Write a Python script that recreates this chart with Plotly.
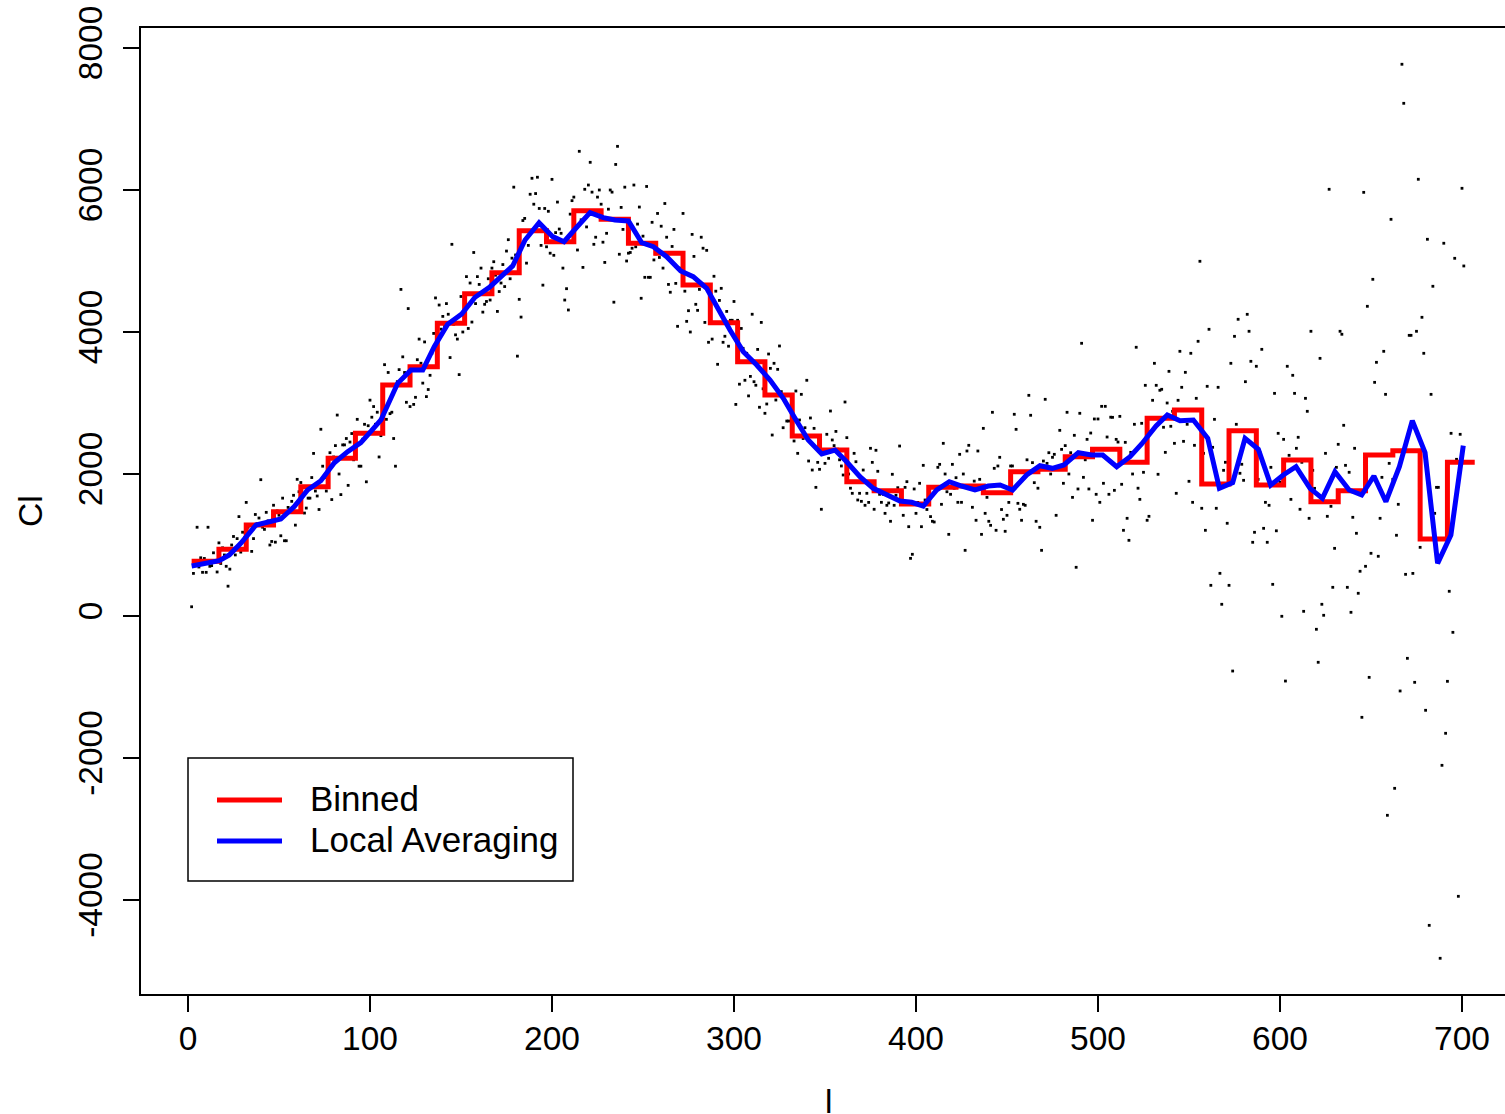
import plotly.graph_objects as go

# ---------------- data ----------------
# observed Cl, one value per multipole l = 2 .. 701
cl_obs = [
    130, 600, 780, 1250, 690, 820, 615, 810, 615, 1250, 700, 710, 890, 760, 620,
    1030, 740, 960, 860, 700, 420, 660, 1000, 1120, 860, 1090, 1400, 900, 1180, 1100,
    1600, 1250, 1180, 910, 1090, 1430, 1300, 1380, 1920, 1250, 1220, 1460, 1340, 1000, 1050,
    1560, 1040, 1480, 1420, 1130, 1660, 1060, 1060, 1530, 1500, 1615, 1700, 1280, 1925, 1750,
    1880, 1700, 1450, 1520, 1660, 1660, 1950, 2290, 1760, 1690, 1500, 2630, 2110, 1950, 1760,
    2150, 2300, 1640, 2240, 2400, 2830, 2000, 1710, 2410, 2410, 2500, 1840, 2450, 2570, 2200,
    2400, 2770, 2110, 2110, 2490, 2700, 1890, 2680, 3040, 2800, 2950, 2700, 2870, 2240, 2540,
    3100, 3540, 2770, 3430, 2850, 2870, 2500, 2110, 3300, 3470, 4600, 3650, 3430, 3010, 4330,
    2950, 3500, 2980, 3080, 3610, 3900, 3560, 3280, 3860, 3090, 3190, 3390, 3700, 3980, 4480,
    4100, 4380, 4040, 4220, 4085, 4400, 4250, 3640, 5235, 4110, 3960, 3900, 3400, 4500, 4000,
    4300, 4780, 4050, 4690, 4140, 5120, 4400, 4780, 4670, 4900, 4280, 4390, 4430, 4750, 4450,
    4900, 4990, 4800, 4290, 4570, 4690, 4950, 4640, 5140, 5300, 4750, 5040, 6040, 5085, 3660,
    4460, 4210, 5570, 5600, 4970, 5220, 5940, 6165, 5800, 5950, 6180, 5740, 5220, 4660, 5740,
    5200, 5700, 5110, 6150, 5080, 5400, 5830, 5450, 5390, 4900, 4450, 4610, 4310, 5660, 5850,
    5900, 5500, 5155, 6545, 5580, 4910, 6010, 5480, 6070, 6390, 5970, 5235, 5335, 5900, 6000,
    5800, 5265, 4980, 5390, 5730, 6000, 5970, 4420, 6360, 6615, 5095, 5755, 5445, 6040, 5000,
    5110, 5120, 5180, 6070, 5200, 5520, 5760, 4475, 5350, 4770, 6050, 4770, 4770, 5545, 5015,
    5100, 5670, 5050, 5490, 4900, 5810, 5335, 4670, 4560, 5205, 5445, 4685, 4080, 4900, 5120,
    5670, 4575, 4150, 4300, 4000, 5375, 5065, 4390, 4305, 4600, 5335, 5180, 4135, 5150, 3855,
    4300, 3900, 4785, 4575, 3545, 4445, 4615, 3855, 3940, 4290, 3800, 4165, 4165, 4430, 2980,
    4165, 3265, 4050, 3770, 3320, 3700, 3100, 3375, 4250, 3300, 3250, 3755, 2940, 4135, 3200,
    2855, 2986, 3690, 3488, 2549, 3559, 3042, 3474, 3803, 3160, 2652, 3028, 2746, 2746, 2950,
    2600, 2465, 3169, 2291, 2761, 3122, 2500, 2652, 3320, 2183, 2789, 2056, 2643, 1812, 2164,
    2066, 1503, 2300, 2150, 2559, 2221, 2887, 2479, 2400, 2600, 2350, 2200, 2113, 1986, 3014,
    2512, 2000, 1800, 1728, 2291, 2173, 1634, 1728, 1615, 2056, 1559, 1728, 1600, 2362, 2164,
    1503, 2334, 2038, 1714, 1601, 1714, 1446, 1559, 1592, 1334, 1996, 1559, 1700, 1807, 2394,
    1700, 1418, 1812, 1892, 1258, 812, 869, 1789, 1446, 1600, 1869, 1258, 2122, 1634, 1500,
    1700, 1400, 1334, 1324, 1800, 2094, 2136, 1573, 2432, 2000, 1750, 1150, 1714, 2136, 1800,
    1948, 1601, 2277, 1601, 2000, 925, 2324, 2404, 1800, 1531, 1900, 1348, 2324, 1925, 1150,
    2643, 1446, 1671, 1334, 1277, 2869, 2080, 1207, 2113, 2235, 1500, 1362, 1193, 1418, 1600,
    2113, 2113, 2841, 2629, 1587, 1503, 1348, 1573, 1559, 2200, 3108, 2827, 2160, 1878, 1334,
    1800, 1249, 925, 2183, 3052, 2150, 2300, 2000, 2235, 2277, 1418, 2100, 2615, 2347, 1869,
    2400, 2869, 2000, 2300, 1671, 2545, 686, 1789, 2855, 3841, 1953, 2200, 2488, 1789, 2577,
    1348, 2775, 1714, 2775, 1601, 2953, 1869, 2953, 2521, 1714, 2800, 2798, 1770, 2488, 2450,
    2812, 1855, 1207, 2446, 1376, 1066, 2305, 2000, 2700, 3785, 1800, 1643, 2714, 2024, 3249,
    1348, 1404, 2600, 3038, 3559, 3249, 1996, 3179, 3193, 2658, 2305, 3000, 3446, 2672, 2883,
    2432, 1728, 3038, 3728, 3221, 2460, 3432, 2700, 1897, 3700, 1601, 2404, 3066, 3869, 4996,
    1517, 2291, 1207, 3235, 4038, 432, 2376, 2770, 1517, 3221, 601, 165, 2052, 2165, 1306,
    432, 3559, -775, 3939, 2700, 4179, 2010, 2137, 1911, 3300, 4249, 4010, 3587, 1038, 1179,
    3517, 1925, 2300, 3756, 1235, 1601, 1038, 1559, 2094, 446, 3136, 1200, 2573, 1883, -4,
    2488, -916, 3517, 2263, 1643, 3390, 3136, 2362, 2517, 1503, 2165, 66, 3066, 2883, 1376,
    4010, 2052, 1798, -187, -652, 3629, 165, 10, 2291, 1404, 6010, 1545, 404, 953, 2094,
    2418, 4010, 3968, 2686, 2122, 404, 2024, 52, 1390, 2362, 1165, 320, 630, -1427, 5967,
    700, 4362, -864, 883, 4742, 3291, 3573, 841, 1376, 1953, 3728, 3122, -2807, 2150, 5587,
    1925, -2427, 1137, 1573, -1056, 7771, 7221, 587, -596, 3953, 3953, 600, -934, 4010, 6151,
    967, 4207, 3700, -1328, 5306, -4357, 3122, 4644, 1446, 1812, 1812, -4821, -2103, 5250, -1652,
    -920, 348, 2573, -230, 5038, 2207, -3948, 2559, 6024, 4930,
]
ell = list(range(2, 2 + len(cl_obs)))

# binned means: bins of width 15 starting at l = 2
bin_start = 2
bin_width = 15
binned_cl = [770, 939, 1282, 1469, 1822, 2221, 2573, 3254, 3512, 4123,
             4540, 4836, 5427, 5272, 5709, 5587, 5249, 5108, 4662, 4131,
             3582, 3113, 2535, 2338, 1892, 1765, 1577, 1812, 1831, 1737,
             2033, 2066, 2244, 2350, 2164, 2784, 2901, 1859, 2610, 1845,
             2197, 1610, 1765, 2268, 2329, 1085, 2164]
bin_edges = [bin_start + bin_width * i for i in range(len(binned_cl) + 1)]

# local averaging curve
avg_l = [2, 9.5, 17.2, 22.7, 29, 37.4, 44, 51, 58.4, 65.7,
         73, 80.4, 87.7, 95, 100.5, 106, 115.2, 122.5, 129, 135.3,
         142.7, 150.4, 157.7, 166, 172, 178.4, 185.2, 192.9, 200.4, 206.6,
         213.6, 220.9, 228.2, 234.6, 242, 249.3, 255.7, 263, 270.7, 277.6,
         285, 291.4, 297.8, 305.1, 312.5, 319.8, 327.1, 333.5, 340.8, 348.2,
         355.5, 361.9, 369.2, 376.5, 383.9, 391.2, 397.6, 404, 411.4, 418.3,
         425.1, 432.4, 439.7, 446.2, 453.1, 460.8, 468.1, 474.9, 481.3, 489.2,
         496.5, 502.6, 510.3, 517.6, 524, 531.9, 538.1, 545.1, 552.4, 560.3,
         566.7, 574, 580.8, 588.1, 594.9, 601.8, 608.8, 616.5, 623.3, 630.2,
         638, 644.9, 651.6, 658.2, 665.6, 672.7, 679.7, 686.6, 693.9, 700.7]
avg_cl = [704, 745, 779, 859, 1024, 1282, 1320, 1366, 1540, 1775,
          1906, 2159, 2315, 2441, 2600, 2761, 3277, 3465, 3465, 3793,
          4110, 4254, 4489, 4638, 4780, 4930, 5296, 5540, 5343, 5272,
          5475, 5681, 5610, 5578, 5564, 5258, 5202, 5061, 4859, 4779,
          4615, 4310, 4028, 3723, 3535, 3324, 3066, 2785, 2479, 2282,
          2338, 2173, 1962, 1798, 1704, 1620, 1601, 1549, 1775, 1892,
          1831, 1775, 1831, 1845, 1775, 1986, 2117, 2080, 2127, 2300,
          2268, 2268, 2103, 2244, 2423, 2676, 2831, 2751, 2761, 2503,
          1798, 1878, 2503, 2348, 1845, 1986, 2103, 1798, 1657, 2033,
          1775, 1704, 1972, 1610, 2103, 2751, 2300, 742, 1141, 2399]

x_ticks = [0, 100, 200, 300, 400, 500, 600, 700]
y_ticks = [-4000, -2000, 0, 2000, 4000, 6000, 8000]
y_ticktext = [str(v) for v in y_ticks]
legend_labels = ["Binned", "Local Averaging"]
series_colors = ["#FF0000", "#0000FF"]

# ---------------- figure ----------------
FONT = "Liberation Sans, Arial, Helvetica, sans-serif"
FS = 33.5
FS_LEG = 35
W, H = 1505, 1114
ML, MR, MT, MB = 141, 0, 28, 120

fig = go.Figure()
fig.add_trace(go.Scatter(
    x=ell, y=cl_obs, mode="markers",
    marker=dict(symbol="square", size=2.8, color="black", line=dict(width=0)),
    showlegend=False, hoverinfo="x+y"))
fig.add_trace(go.Scatter(
    x=bin_edges, y=binned_cl + [binned_cl[-1]], mode="lines",
    line=dict(color=series_colors[0], width=5, shape="hv"),
    name=legend_labels[0], showlegend=False))
fig.add_trace(go.Scatter(
    x=avg_l, y=avg_cl, mode="lines",
    line=dict(color=series_colors[1], width=5),
    name=legend_labels[1], showlegend=False))

fig.update_layout(
    width=W, height=H,
    margin=dict(l=ML, r=MR, t=MT, b=MB, pad=0),
    paper_bgcolor="white", plot_bgcolor="white",
    font=dict(family=FONT, size=FS, color="black"),
    showlegend=False,
)
fig.update_xaxes(
    range=[-25.82, -25.82 + (W - ML - MR) / 1.82],
    tickmode="array", tickvals=x_ticks,
    ticks="outside", ticklen=16, tickwidth=1.5, tickcolor="black",
    showline=True, linecolor="black", linewidth=1.5, mirror=True,
    showgrid=False, zeroline=False,
    tickfont=dict(family=FONT, size=FS), ticklabelstandoff=-2,
)
fig.update_yaxes(
    range=[-5323.9, 8281.7],
    tickmode="array", tickvals=y_ticks, ticktext=y_ticktext, tickangle=-90,
    ticks="outside", ticklen=16, tickwidth=1.5, tickcolor="black",
    showline=True, linecolor="black", linewidth=1.5, mirror=False,
    showgrid=False, zeroline=False,
    tickfont=dict(family=FONT, size=FS), ticklabelstandoff=8,
)

plot_w = W - ML - MR
plot_h = H - MT - MB


def px_x(px):
    return (px - ML) / plot_w


def px_y(py):
    return (H - MB - py) / plot_h


# legend box (drawn by hand to match the base-R legend)
fig.add_shape(type="rect", xref="paper", yref="paper",
              x0=px_x(188), x1=px_x(573), y0=px_y(881), y1=px_y(758),
              line=dict(color="black", width=1.5), fillcolor="white", layer="above")
for i, (lab, col) in enumerate(zip(legend_labels, series_colors)):
    yy = [800, 841][i]
    fig.add_shape(type="line", xref="paper", yref="paper",
                  x0=px_x(217), x1=px_x(282), y0=px_y(yy), y1=px_y(yy),
                  line=dict(color=col, width=5), layer="above")
    fig.add_annotation(xref="paper", yref="paper", x=px_x(311), y=px_y(yy),
                       xanchor="left", yanchor="middle", text=lab, showarrow=False,
                       font=dict(family=FONT, size=FS_LEG, color="black"),
                       xshift=-3, yshift=2)

# axis titles
fig.add_annotation(xref="paper", yref="paper", x=px_x(828), y=px_y(1101),
                   xanchor="center", yanchor="middle", text="l", showarrow=False,
                   font=dict(family=FONT, size=FS, color="black"))
fig.add_annotation(xref="paper", yref="paper", x=px_x(30), y=px_y(511),
                   xanchor="center", yanchor="middle", text="Cl", textangle=-90,
                   showarrow=False, font=dict(family=FONT, size=FS, color="black"))

fig.write_html("out.html")
